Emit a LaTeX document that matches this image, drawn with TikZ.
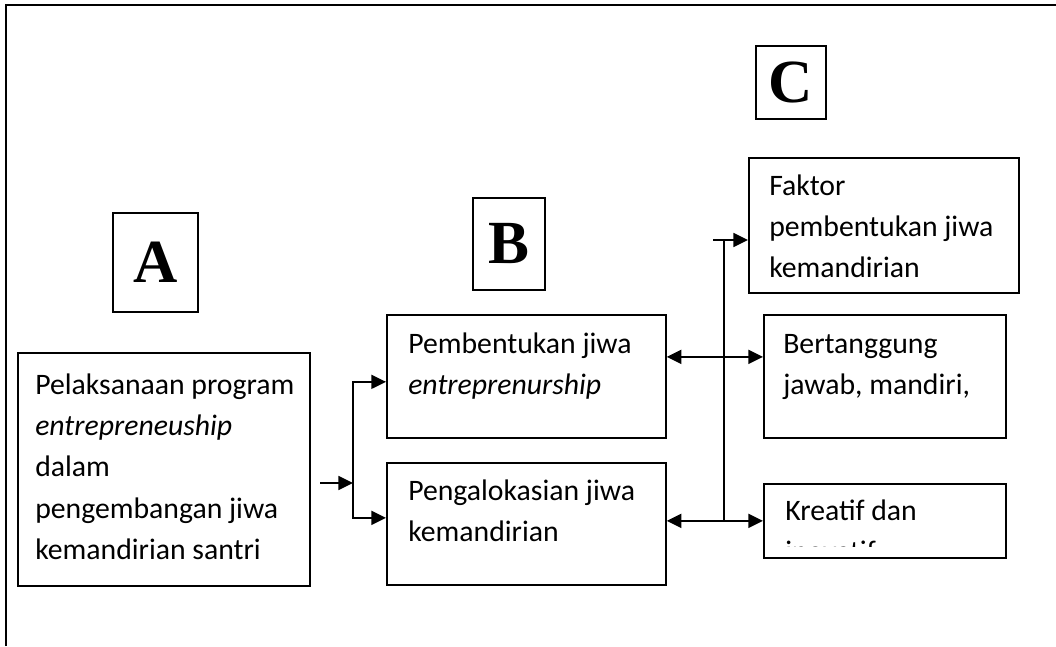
\documentclass[tikz,border=0pt]{standalone}
\usepackage{fontspec}
\setmainfont{Carlito}
\newfontfamily\letterfont{Liberation Serif}
\usetikzlibrary{arrows.meta}
\newcommand{\topstrut}{\rule{0pt}{18pt}}
\begin{document}
\begin{tikzpicture}[x=0.75pt,y=-0.75pt,
  box/.style={draw, line width=1.3pt, anchor=north west, inner sep=0pt},
  txt/.style={anchor=north west, align=left, inner sep=0pt, font=\fontsize{22.3}{31}\selectfont},
  lbl/.style={font=\letterfont\bfseries\fontsize{46}{46}\selectfont, inner sep=0pt},
  line/.style={line width=1.3pt},
  arr/.style={line width=1.3pt, -{Triangle[length=11pt,width=10.5pt]}},
  darr/.style={line width=1.3pt, {Triangle[length=11pt,width=10.5pt]}-{Triangle[length=11pt,width=10.5pt]}}]
\useasboundingbox (0,0) rectangle (1056,646);
% outer frame
\coordinate (fb) at (6,646);
\coordinate (ft) at (6,5);
\coordinate (fr) at (1056,5);
\draw[line width=1.5pt] (fb) -- (ft) -- (fr);

% letter boxes
\node[box, minimum width=63.75pt, minimum height=74.25pt] (boxA) at (112,212) {};
\node[lbl] (A) at (boxA.center) {A};
\node[box, minimum width=54pt, minimum height=69pt] (boxB) at (472,197) {};
\node[lbl] (B) at (boxB.center) {B};
\node[box, minimum width=52.5pt, minimum height=54.75pt] (boxC) at (755,45) {};
\node[lbl] (C) at (boxC.center) {C};

% main boxes
\node[box, minimum width=219pt, minimum height=174.75pt] (main) at (17,352) {};
\node[txt] (maint) at (35,370) {\topstrut Pelaksanaan program\\\textit{entrepreneuship}\\dalam\\pengembangan jiwa\\kemandirian santri};

\node[box, minimum width=209.25pt, minimum height=92.25pt] (pemb) at (386,314) {};
\node[txt] (pembt) at (408,329) {\topstrut Pembentukan jiwa\\\textit{entreprenurship}};

\node[box, minimum width=209.25pt, minimum height=91.5pt] (peng) at (386,462) {};
\node[txt] (pengt) at (408,476) {\topstrut Pengalokasian jiwa\\kemandirian};

\node[box, minimum width=202.5pt, minimum height=101.25pt] (fak) at (748,157) {};
\node[txt] (fakt) at (769,171) {\topstrut Faktor\\pembentukan jiwa\\kemandirian};

\node[box, minimum width=181.5pt, minimum height=92.25pt] (bert) at (763,314) {};
\node[txt] (bertt) at (783,329) {\topstrut Bertanggung\\jawab, mandiri,};

\node[box, minimum width=181.5pt, minimum height=55.5pt] (kre) at (763,483) {};
\begin{scope}
\clip (763,483) rectangle (1005,546);
\node[txt] (kret) at (785,496) {\topstrut Kreatif dan\\inovatif};
\end{scope}

% left connectors
\coordinate (s1) at (320,483);
\coordinate (j1) at (353,483);
\draw[arr] (s1) -- (j1);
\draw[arr] (j1) |- ([yshift=-4.1pt]pemb.west);
\draw[arr] (j1) |- ([yshift=4.5pt]peng.west);

% right connectors
\coordinate (vt) at (724,240);
\coordinate (vb) at (724,520);
\coordinate (tk) at (713,240);
\draw[line] (vt) -- (vb);
\draw[arr] (tk) -- (fak.west |- vt);
\draw[darr] ([yshift=14.6pt]pemb.east) -- ([yshift=14.6pt]bert.west);
\draw[darr] (peng.east |- kre.west) -- (kre.west);
\end{tikzpicture}
\end{document}
